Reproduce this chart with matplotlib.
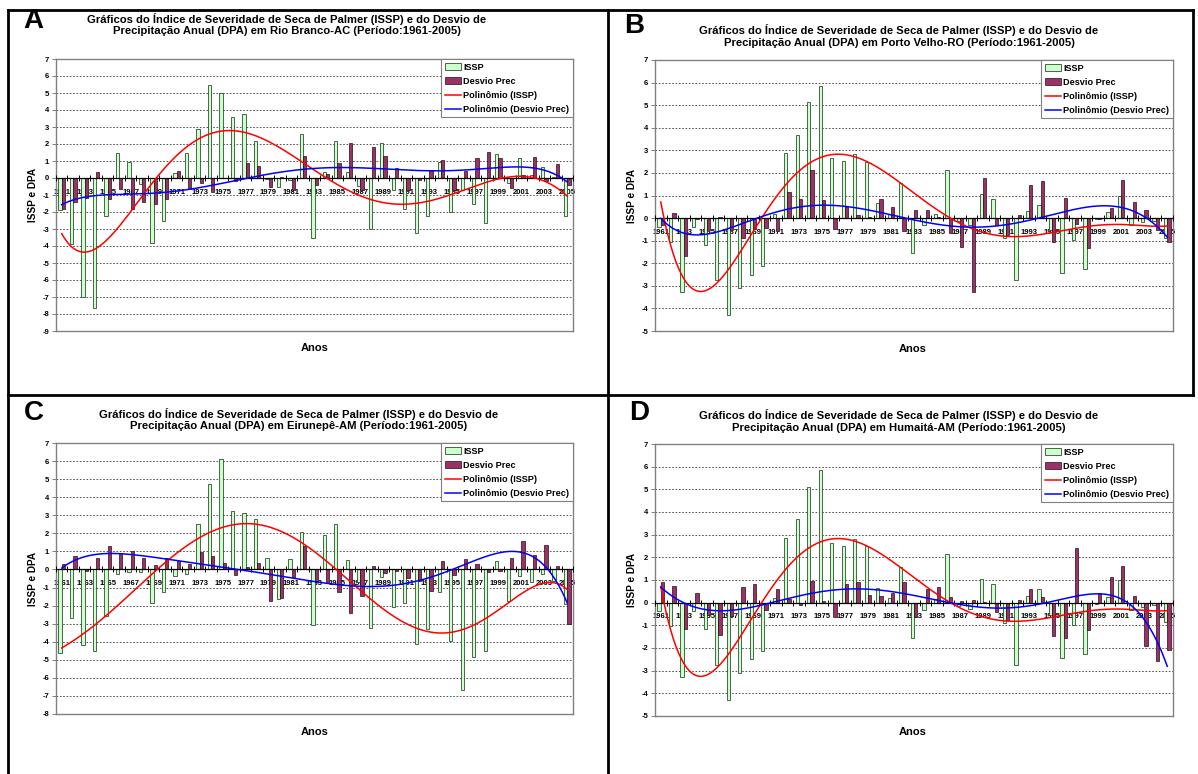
import numpy as np
import matplotlib
matplotlib.use("Agg")
import matplotlib.pyplot as plt
from matplotlib.patches import Patch
from matplotlib.lines import Line2D

plt.rcParams['font.family'] = ['Liberation Sans', 'DejaVu Sans']

# ---------------- data ----------------
years = list(range(1961, 2006))

issp_rio_branco = [-1.9, -3.9, -7.0, -7.65, -2.25, 1.5, 0.92, -0.35, -3.85, -2.5, 0.27, 1.5,
                   2.9, 5.5, 5.0, 3.57, 3.75, 2.2, -0.08, -0.55, -0.1, 2.57, -3.5,
                   0.33, 2.2, 0.35, -0.45, -3.0, 2.06, -0.7, -1.85, -3.25, -2.25, 0.96,
                   -2.0, -0.7, -1.5, -2.65, 1.4, -0.3, 1.15, 0.18, 0.66, 0.08, -2.25]
dpa_rio_branco = [-1.8, -1.4, -1.2, 0.35, -1.25, -0.65, -1.85, -1.4, -1.5, -1.25, 0.4, -0.65,
                  -0.27, -0.85, 0.0, -0.15, 0.86, 0.7, -0.55, 0.03, -0.7, 1.3, -0.4,
                  0.24, 0.9, 2.06, -0.7, 1.8, 1.3, 0.6, -0.7, -0.1, 0.5, 1.04,
                  -0.7, 0.4, 1.15, 1.55, 1.15, -0.6, 0.2, 1.25, -0.2, 0.83, -0.4]

issp_porto_velho = [-0.38, -1.05, -3.26, -0.38, -1.17, -2.76, -4.31, -3.11, -2.5, -2.14, 0.2,
                    2.86, 3.69, 5.12, 5.86, 2.64, 2.51, 2.82, 2.5, 0.65, 0.2, 1.56,
                    -1.56, -0.31, 0.16, 2.15, -0.15, -0.3, 1.06, 0.84, -0.9, -2.75, 0.31,
                    0.6, -0.53, -2.45, -0.97, -2.27, -0.05, 0.25, 0.99, -0.31, -0.19, -0.12, -0.87]
dpa_porto_velho = [-0.3, 0.24, -1.7, -0.03, -0.53, 0.05, -0.53, -0.87, -0.5, -0.46, -0.57,
                   1.15, 0.84, 2.11, 0.78, -0.5, 0.5, 0.13, 0.04, 0.84, 0.49, -0.58,
                   0.35, 0.35, 0.06, -0.68, -1.28, -3.29, 1.76, -0.31, -0.75, 0.13, 1.46,
                   1.65, -1.05, 0.89, -0.27, -1.31, -0.05, 0.43, 1.67, 0.71, 0.38, -0.53, -1.08]

issp_eirunepe = [-4.6, -2.67, -4.2, -4.5, -2.6, -0.26, -0.16, -0.16, -1.86, -1.24, -0.38, -0.26,
                 2.49, 4.73, 6.1, 3.22, 3.13, 2.8, 0.66, -1.64, 0.6, 2.08, -3.08,
                 1.9, 2.49, 0.55, -0.7, -3.24, -0.44, -2.08, -1.86, -4.13, -3.31, -1.26,
                 -3.96, -6.67, -4.83, -4.5, 0.48, -1.72, -0.38, -0.71, -0.26, -0.62, -1.92]
dpa_eirunepe = [0.29, 0.73, -0.07, 0.66, 1.3, 0.88, 1.02, 0.66, 0.26, 0.66, 0.46, 0.29,
                0.95, 0.75, 0.37, -0.33, 0.11, 0.38, -1.77, -1.59, -0.4, 1.3, -0.71,
                -0.75, -1.26, -2.39, -1.48, 0.18, -0.22, -0.07, -0.48, -0.62, -1.17, 0.48,
                -0.29, 0.6, 0.29, -0.13, -0.07, 0.62, 1.55, 0.82, 1.37, 0.18, -3.03]

issp_humaita = [-0.38, -1.05, -3.26, -0.38, -1.17, -2.76, -4.31, -3.11, -2.5, -2.14, 0.2,
                2.86, 3.69, 5.12, 5.86, 2.64, 2.51, 2.82, 2.5, 0.65, 0.2, 1.56,
                -1.56, -0.31, 0.16, 2.15, -0.15, -0.3, 1.06, 0.84, -0.9, -2.75, 0.31,
                0.6, -0.53, -2.45, -0.97, -2.27, -0.05, 0.25, 0.99, -0.31, -0.19, -0.12, -0.87]
dpa_humaita = [0.9, 0.75, -1.15, 0.44, -0.55, -1.41, -0.6, 0.68, 0.82, -0.34, 0.62,
               0.15, -0.12, 0.94, 0.09, -0.63, 0.84, 0.9, 0.34, 0.29, 0.44, 0.9,
               -0.65, 0.59, 0.68, 0.24, 0.06, 0.13, 0.04, -0.41, -0.78, 0.1, 0.62,
               0.24, -1.49, -1.55, 2.39, -1.19, 0.44, 1.12, 1.63, 0.29, -1.91, -2.58, -2.11]

title_top = "Gráficos do Índice de Severidade de Seca de Palmer (ISSP) e do Desvio de"
stations = ["Rio Branco-AC", "Porto Velho-RO", "Eirunepê-AM", "Humaitá-AM"]
letters = ["A", "B", "C", "D"]
legend_labels = ["ISSP", "Desvio Prec", "Polinômio (ISSP)", "Polinômio (Desvio Prec)"]
y_label = "ISSP e DPA"
x_label = "Anos"

# ---------------- layout ----------------
W, H = 1198, 774
fig = plt.figure(figsize=(W / 100, H / 100), dpi=100)
fig.patch.set_facecolor("white")


def fx(x):
    return x / W


def fy(y):
    return 1 - y / H


GREEN = "#CCFFCC"
GREEN_EDGE = "#2f4f2f"
PURPLE = "#993366"
PURPLE_EDGE = "#2a0a1a"

panels = [
    dict(issp=issp_rio_branco, dpa=dpa_rio_branco, ylim=(-9, 7), box=(56, 59, 573, 331),
         letter=(33, 21), title=(287, 24.5), ylab=33, anos=(315, 348)),
    dict(issp=issp_porto_velho, dpa=dpa_porto_velho, ylim=(-5, 7), box=(655, 60, 1173, 331),
         letter=(634, 26), title=(899, 36), ylab=632, anos=(913, 349)),
    dict(issp=issp_eirunepe, dpa=dpa_eirunepe, ylim=(-8, 7), box=(56, 443, 573, 714),
         letter=(34, 413), title=(299, 419.5), ylab=33, anos=(315, 732)),
    dict(issp=issp_humaita, dpa=dpa_humaita, ylim=(-5, 7), box=(655, 444, 1173, 716),
         letter=(639, 413), title=(899, 421), ylab=632, anos=(913, 732)),
]

n = len(years)
x = np.arange(n)
bw = 0.286

for i, p in enumerate(panels):
    x0, y0, x1, y1 = p["box"]
    ax = fig.add_axes([fx(x0), fy(y1), (x1 - x0) / W, (y1 - y0) / H])
    ax.set_facecolor("white")
    lo, hi = p["ylim"]
    ax.set_ylim(lo, hi)
    ax.set_xlim(-0.5, n - 0.5)
    ax.set_yticks(np.arange(lo, hi + 1, 1))
    ax.set_yticklabels([str(v) for v in range(lo, hi + 1)], fontsize=5.5, fontweight="bold")
    ax.tick_params(axis="y", direction="out", length=3, width=0.7, color="#808080", pad=2)
    ax.set_xticks([])
    for s in ax.spines.values():
        s.set_color("#808080")
        s.set_linewidth(1.0)
    ax.set_axisbelow(True)
    ax.yaxis.grid(True, linestyle=(0, (2.0, 2.0)), color="#3a3a3a", linewidth=0.6)

    # year labels on the zero axis (behind the bars)
    for k, yr in enumerate(years):
        if k % 2 == 0:
            ax.annotate(str(yr), (k, 0), xytext=(0, -14), textcoords="offset pixels",
                        ha="center", va="center", fontsize=5.5, fontweight="bold",
                        zorder=1)

    ax.bar(x - bw / 2, p["issp"], width=bw, color=GREEN, edgecolor=GREEN_EDGE,
           linewidth=0.6, zorder=3)
    ax.bar(x + bw / 2, p["dpa"], width=bw, color=PURPLE, edgecolor=PURPLE_EDGE,
           linewidth=0.5, zorder=3)

    ax.axhline(0, color="black", linewidth=0.9, zorder=4)
    ax.plot(np.arange(n + 1) - 0.5, np.zeros(n + 1), linestyle="none", marker="|",
            markersize=5, markeredgewidth=0.7, color="black", zorder=4)

    xs = np.linspace(0, n - 1, 400)
    fit_i = np.polynomial.Polynomial.fit(x, p["issp"], 6)
    fit_d = np.polynomial.Polynomial.fit(x, p["dpa"], 6)
    ax.plot(xs, fit_i(xs), color="#FF0000", linewidth=1.1, zorder=5)
    ax.plot(xs, fit_d(xs), color="#0000FF", linewidth=1.1, zorder=5)

    handles = [Patch(facecolor=GREEN, edgecolor=GREEN_EDGE, linewidth=0.6),
               Patch(facecolor=PURPLE, edgecolor=PURPLE_EDGE, linewidth=0.5),
               Line2D([0], [0], color="#FF0000", linewidth=1.1),
               Line2D([0], [0], color="#0000FF", linewidth=1.1)]
    leg = ax.legend(handles, legend_labels, loc="upper right", borderaxespad=0,
                    fancybox=False, framealpha=1, edgecolor="#808080",
                    prop=dict(size=6.6, weight="bold"), handlelength=1.7, handleheight=0.65,
                    handletextpad=0.3, labelspacing=0.55, borderpad=0.4)
    leg.get_frame().set_linewidth(0.8)
    leg.set_zorder(10)

    fig.text(fx(p["letter"][0]), fy(p["letter"][1]), letters[i], fontsize=20,
             fontweight="bold", ha="center", va="center")
    fig.text(fx(p["title"][0]), fy(p["title"][1]),
             title_top + "\n" + "Precipitação Anual (DPA) em " + stations[i] + " (Período:1961-2005)",
             fontsize=8.1, fontweight="bold", ha="center", va="center", linespacing=1.22)
    fig.text(fx(p["ylab"]), fy((y0 + y1) / 2), y_label, rotation=90, fontsize=7.2,
             fontweight="bold", ha="center", va="center")
    fig.text(fx(p["anos"][0]), fy(p["anos"][1]), x_label, fontsize=8, fontweight="bold",
             ha="center", va="center")

# frame lines between panels
lw = 2.0
segs = [((8, 10), (1193, 10)), ((8, 10), (8, 774)), ((608, 10), (608, 774)),
        ((8, 395), (1193, 395)), ((1193, 10), (1193, 395))]
for (a, b) in segs:
    fig.add_artist(Line2D([fx(a[0]), fx(b[0])], [fy(a[1]), fy(b[1])], color="black",
                          linewidth=lw))

fig.savefig("out.png", dpi=100, facecolor="white")
